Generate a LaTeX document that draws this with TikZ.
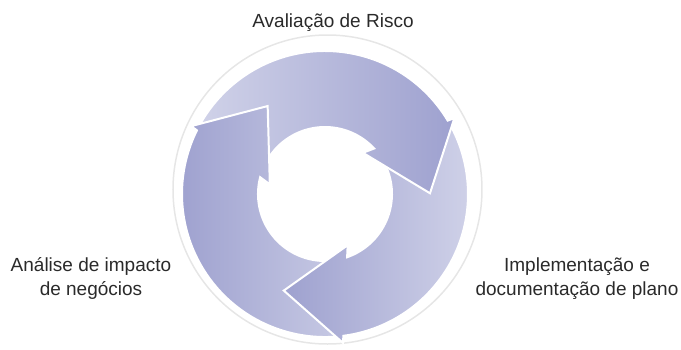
\documentclass[tikz,border=0pt]{standalone}
\usepackage{fontspec}
\setmainfont{Liberation Sans}
\definecolor{lightlav}{HTML}{D3D5EA}
\definecolor{darklav}{HTML}{9EA1CF}
\definecolor{ringgrey}{HTML}{E6E6E6}
\definecolor{labeltext}{HTML}{2A2A2A}
\tikzset{
  cyc/.style={draw=white, line width=2pt, line join=miter},
  lbl/.style={font=\fontsize{19}{24}\selectfont, text=labeltext, align=center, inner sep=0pt},
}
% #1 = tip angle, #2 = tail angle
\newcommand\cycpath[2]{%
  (#2:143pt) arc[start angle=#2, end angle={#1+30.48}, radius=143pt]
  -- ({#1+30}:150pt) -- (#1:105pt) -- ({#1+47}:56pt) -- ({#1+42.37}:67pt)
  arc[start angle={#1+42.37}, end angle=#2, radius=67pt] -- cycle}
\begin{document}
\begin{tikzpicture}[x=1pt,y=1pt]
\useasboundingbox (-325,-155) rectangle (356,194);
\draw[ringgrey, line width=1.5pt] (2.5,4.5) circle[radius=154.5pt];
% left arrow (under the others at its tail)
\path[cyc, left color=darklav, right color=lightlav] \cycpath{123.1}{296.9};
% lower-right arrow
\path[cyc, left color=darklav, right color=lightlav] \cycpath{-113.1}{50.4};
% top arrow
\path[cyc, left color=lightlav, right color=darklav] \cycpath{0.4}{173.1};
% head of left arrow over the tail of the top arrow
\begin{scope}
\clip (-200,-30) rectangle (10,200);
\path[cyc, left color=darklav, right color=lightlav] \cycpath{123.1}{296.9};
\end{scope}
\node[lbl, anchor=base] (risk) at (8,167) {Avaliação de Risco};
\node[lbl, anchor=base] (impact) at (-234,-101) {Análise de impacto\\de negócios};
\node[lbl, anchor=base] (impl) at (252,-101) {Implementação e\\documentação de plano};
\end{tikzpicture}
\end{document}
